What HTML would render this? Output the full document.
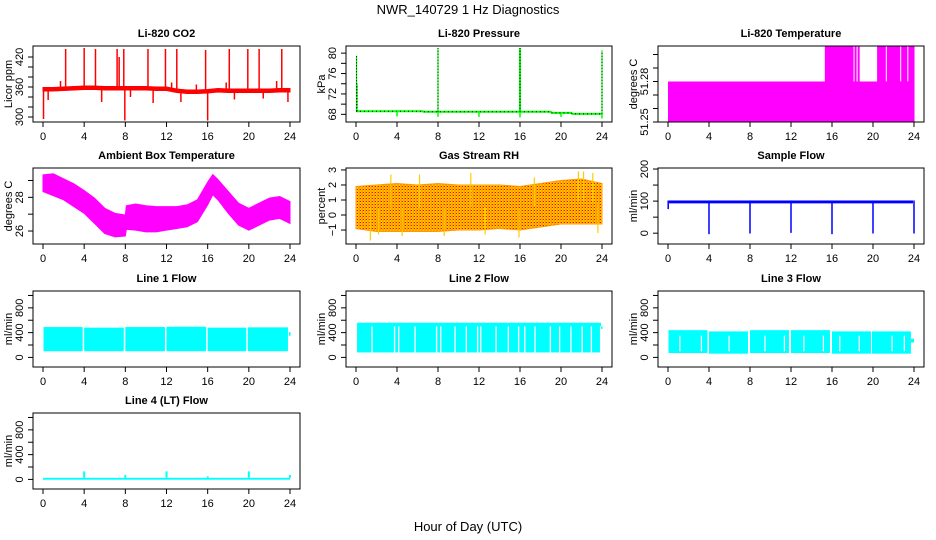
<!DOCTYPE html>
<html><head><meta charset="utf-8"><style>
html,body{margin:0;padding:0;background:#fff;}
svg{display:block;font-family:"Liberation Sans",sans-serif;}
</style></head><body>
<svg id="c" width="936" height="540" viewBox="0 0 936 540">
<defs>
<pattern id="rhpat" width="3" height="3" patternUnits="userSpaceOnUse">
<rect width="3" height="3" fill="#ffcc00"/><rect width="1" height="1" fill="#ff0000"/><rect x="1.5" y="1.5" width="1" height="1" fill="#ff2200"/><rect x="2" y="0" width="1" height="1" fill="#ff8800"/>
</pattern>
</defs>
<text x="468" y="14" text-anchor="middle" font-size="13">NWR_140729 1 Hz Diagnostics</text>
<text x="468" y="531" text-anchor="middle" font-size="13">Hour of Day (UTC)</text>
</svg>
<script>
// ---------- data ----------
const xTicks = [0,4,8,12,16,20,24];
const co2T = [0,1,2,3,4,5,6,7,8,9,10,11,12,13,14,15,16,17,18,19,20,21,22,23,24];
const co2Base = [355,355,356,357,358,358,357,357,357,357,357,356,356,352,350,350,351,353,352,352,352,352,352,353,353];
const co2SpikeT = [0.05,0.5,1.7,2.2,4.0,5.1,5.7,7.2,7.4,7.85,7.95,8.5,10.2,10.7,11.9,12.5,13.0,13.4,14.9,15.8,16.0,17.8,18.1,18.6,19.9,21.0,21.4,22.7,23.2,23.8];
const co2SpikeV = [296,334,372,436,438,436,330,436,420,436,293,340,436,328,436,369,436,330,365,434,293,369,436,335,436,436,337,372,436,330];
const presT = [0,6.5,6.6,16,19,19.1,21,21.1,24];
const presV = [68.6,68.6,68.5,68.5,68.5,68.3,68.3,68.1,68.1];
const presSpikeT = [0.05,0.1,8,16,24];
const presSpikeV = [79.5,74,81,81,80.5];
const presDipT = [4,8,12,16,20,24];
const presDipV = [67.6,67.5,67.5,67.4,67.5,67.2];
const tempBaseEnd = 24.05;
const tempLowV = 51.25;
const tempMidV = 51.28;
const tempStart = [15.3,18.2,18.5,20.4,21.35,22.75,23.45];
const tempEnd = [18.1,18.4,18.7,21.25,22.65,23.35,24.05];
const tempHi = [51.306,51.306,51.306,51.306,51.306,51.306,51.306];
const ambT = [0,1,2,3,4,5,6,7,8,8.1,9,10,11,12,13,14,15,16,16.5,17,18,19,20,21,22,23,24];
const ambHi = [29.33,29.4,29.1,28.8,28.4,27.95,27.35,27.05,26.95,27.5,27.6,27.5,27.45,27.45,27.45,27.55,27.85,28.9,29.35,29.05,28.35,27.65,27.35,27.65,27.95,28.05,27.75];
const ambLo = [28.34,28.1,27.85,27.45,27.05,26.45,25.85,25.65,25.7,26.1,26.05,25.95,25.95,26.05,26.15,26.25,26.55,27.55,28.15,27.85,27.05,26.35,26.05,26.35,26.65,26.75,26.45];
const rhT = [0,2,4,6,8,10,12,14,16,18,20,22,24];
const rhLo = [-0.9,-1.1,-1.1,-1.1,-1.1,-1.0,-1.0,-0.9,-1.0,-0.8,-0.6,-0.6,-0.6];
const rhHi = [1.9,2.0,2.1,2.0,2.1,2.0,2.0,2.0,1.9,2.1,2.3,2.4,2.1];
const rhSpikeT = [1.4,2.2,3.4,4.5,6.2,8.6,11.2,12.6,15.9,17.4,21.7,22.2,23.1,23.6];
const rhSpikeV = [-1.7,-1.3,2.7,-1.4,2.7,-1.4,2.8,-1.3,-1.5,2.5,2.9,2.9,2.8,-1.2];
const sfBaseLo = 93;
const sfBaseHi = 102;
const sfStartV = 75;
const sfDipT = [4,8,12,16,20,24];
const sfDipV = [-3,-1,1,-3,-1,-1];
const l1Start = [0.05,4.0,8.0,12.0,16.0,19.9];
const l1End = [3.85,7.85,11.85,15.85,19.75,23.8];
const l1Hi = [490,480,490,495,480,485];
const l1Lo = [100,100,100,100,100,100];
const l2Start = [0.1];
const l2End = [23.9];
const l2Hi = [560];
const l2Lo = [80];
const l2Gap = [1.5,3.7,4.1,5.7,7.8,8.2,9.6,10.7,11.8,12.1,13.6,14.8,15.8,16.4,17.4,18.9,19.8,20.9,22.0,22.9,23.8];
const l3Start = [0.05,4.0,8.0,12.0,16.0,19.9,23.7];
const l3End = [3.85,7.8,11.8,15.8,19.8,23.7,24.0];
const l3Hi = [440,420,440,440,420,420,300];
const l3Lo = [70,60,70,70,60,60,240];
const l3Gap = [1.1,3.2,5.9,9.4,11.3,13.2,15.1,16.7,18.6,21.8,23.0];
const l4BaseLo = -5;
const l4BaseHi = 25;
const l4SpikeT = [4,8,12,16,20,24];
const l4SpikeV = [130,70,130,50,130,70];

// ---------- layout ----------
const NS = 'http://www.w3.org/2000/svg';
const svg = document.getElementById('c');
const PL = [33,346,658], PR = [300,612,924], PT = [46,168,291,413], PH = 76;
function mk(tag, attrs, parent){
  const e = document.createElementNS(NS, tag);
  for (const k in attrs) e.setAttribute(k, attrs[k]);
  (parent||svg).appendChild(e);
  return e;
}
function panel(col,row,name,title,ylab,yBot,yTop,ticks,labels){
  const L=PL[col], R=PR[col], T=PT[row], B=T+PH;
  const g = mk('g',{});
  
  
  const x = t => L+10+(R-L-20)*t/24;
  const y = v => B-(v-yBot)/(yTop-yBot)*PH;
  const plot = mk('g',{},g);
  
  
  const box = mk('rect',{x:L,y:T,width:R-L,height:PH,fill:'none',stroke:'#000','stroke-width':1},g);
  
  
  const tt = mk('text',{x:(L+R)/2,y:T-9,'text-anchor':'middle','font-size':11,'font-weight':'bold'},g);
  tt.textContent = title;
  
  
  const xa = mk('g',{},g);
  
  
  xTicks.forEach(t=>{
    mk('line',{x1:x(t),x2:x(t),y1:B,y2:B+5,stroke:'#000'},xa);
    const tx = mk('text',{x:x(t),y:B+18,'text-anchor':'middle','font-size':11},xa);
    tx.textContent = t;
  });
  const ya = mk('g',{},g);
  
  
  ticks.forEach((v,i)=>{
    mk('line',{x1:L,x2:L-5,y1:y(v),y2:y(v),stroke:'#000'},ya);
    if (labels[i]!==''){
      const tx = mk('text',{x:0,y:0,'text-anchor':'middle','font-size':11,transform:`translate(${L-10},${y(v)}) rotate(-90)`},ya);
      tx.textContent = labels[i];
    }
  });
  const yl = mk('text',{x:0,y:0,'text-anchor':'middle','font-size':11,transform:`translate(${L-21},${(T+B)/2}) rotate(-90)`},g);
  yl.textContent = ylab;
  
  
  return {x,y,g:plot};
}
function band(p,ts,lo,hi,fill,name){
  let d='M'+ts.map((t,i)=>p.x(t)+','+p.y(hi[i])).join('L');
  for(let i=ts.length-1;i>=0;i--) d+='L'+p.x(ts[i])+','+p.y(lo[i]);
  const e = mk('path',{d:d+'Z',fill:fill,stroke:fill,'stroke-width':1},p.g);
  
  
  return e;
}
function vline(p,t,v1,v2,col,w,name){
  const e = mk('line',{x1:p.x(t),x2:p.x(t),y1:p.y(v1),y2:p.y(v2),stroke:col,'stroke-width':w||1.5},p.g);
  
  
  return e;
}
function rectv(p,t1,t2,lo,hi,col,name){
  const e = mk('rect',{x:p.x(t1),y:p.y(hi),width:Math.max(0.5,p.x(t2)-p.x(t1)),height:Math.max(0.5,p.y(lo)-p.y(hi)),fill:col},p.g);
  
  
  return e;
}
function interp(ts,vs,t){
  for(let i=0;i<ts.length-1;i++) if(t<=ts[i+1]) return vs[i]+(vs[i+1]-vs[i])*(t-ts[i])/(ts[i+1]-ts[i]||1);
  return vs[vs.length-1];
}

// CO2
{
  const p = panel(0,0,'co2','Li-820 CO2','Licor ppm',290,442,[300,320,340,360,380,400,420],['300','','','360','','','420']);
  band(p,co2T,co2Base.map(v=>v-3),co2Base.map(v=>v+4),'#ff0000','co2-band');
  co2SpikeT.forEach((t,i)=>vline(p,t,interp(co2T,co2Base,t),co2SpikeV[i],'#ff0000',1.5,'co2-spike'));
}
// Pressure
{
  const p = panel(1,0,'pressure','Li-820 Pressure','kPa',66.5,81.4,[68,70,72,74,76,78,80],['68','','72','','76','','80']);
  const d='M'+presT.map((t,i)=>p.x(t)+','+p.y(presV[i])).join('L');
  const l = mk('path',{d:d,fill:'none',stroke:'#00ff00','stroke-width':2},p.g);
  
  
  const l2 = mk('path',{d:d,fill:'none',stroke:'#000','stroke-width':1,'stroke-dasharray':'1,3'},p.g);
  
  
  presSpikeT.forEach((t,i)=>{vline(p,t,interp(presT,presV,t),presSpikeV[i],'#00ff00',t===16?2:1.2,'pressure-spike');});
  presSpikeT.forEach((t,i)=>{const e=vline(p,t,interp(presT,presV,t),presSpikeV[i],'#000',1,'pressure-spike-dots');e.setAttribute('stroke-dasharray','1,2');});
  presDipT.forEach((t,i)=>vline(p,t,interp(presT,presV,t),presDipV[i],'#00ff00',1.5,'pressure-dip'));
}
// Temperature
{
  const p = panel(2,0,'temperature','Li-820 Temperature','degrees C',51.25,51.3063,[51.25,51.26,51.27,51.28,51.29,51.30],['51.25','','','51.28','','']);
  rectv(p,0,tempBaseEnd,tempLowV,tempMidV,'#ff00ff','temperature-base-fill');
  tempStart.forEach((t,i)=>rectv(p,t,tempEnd[i],tempMidV,tempHi[i],'#ff00ff','temperature-high-fill'));
}
// Ambient
{
  const p = panel(0,1,'ambient','Ambient Box Temperature','degrees C',25.23,29.74,[26,27,28,29],['26','','28','']);
  band(p,ambT,ambLo,ambHi,'#ff00ff','ambient-band');
}
// RH
{
  const p = panel(1,1,'rh','Gas Stream RH','percent',-1.93,3.13,[-1,0,1,2,3],['\u22121','0','1','2','3']);
  band(p,rhT,rhLo,rhHi,'url(#rhpat)','rh-band').setAttribute('stroke','#ff9900');
  rhSpikeT.forEach((t,i)=>vline(p,t,interp(rhT,rhLo,t)/2+interp(rhT,rhHi,t)/2,rhSpikeV[i],'#ffcc00',1.2,'rh-spike'));
}
// Sample flow
{
  const p = panel(2,1,'sample-flow','Sample Flow','ml/min',-33.7,203.2,[0,50,100,150,200],['0','','100','','200']);
  rectv(p,0.1,23.9,sfBaseLo,sfBaseHi,'#0000ff','sample-flow-band');
  vline(p,0.02,sfStartV,sfBaseHi,'#0000ff',1.5,'sample-flow-start');
  sfDipT.forEach((t,i)=>vline(p,t,sfBaseHi,sfDipV[i],'#0000ff',1.5,'sample-flow-dip'));
}
const flowTicks=[0,200,400,600,800,1000], flowLabels=['0','','400','','800',''];
// Line 1
{
  const p = panel(0,2,'line1-flow','Line 1 Flow','ml/min',-155,1072,flowTicks,flowLabels);
  l1Start.forEach((t,i)=>rectv(p,t,l1End[i],l1Lo[i],l1Hi[i],'#00ffff','line1-flow-block'));
  rectv(p,23.9,24.05,350,410,'#00ffff','line1-flow-tail');
}
// Line 2
{
  const p = panel(1,2,'line2-flow','Line 2 Flow','ml/min',-155,1072,flowTicks,flowLabels);
  l2Start.forEach((t,i)=>rectv(p,t,l2End[i],l2Lo[i],l2Hi[i],'#00ffff','line2-flow-block'));
  l2Gap.forEach(t=>rectv(p,t,t+0.13,l2Lo[0],l2Hi[0]-60,'#ffffff','line2-flow-gap'));
  rectv(p,23.9,24.05,460,500,'#00ffff','line2-flow-tail');
}
// Line 3
{
  const p = panel(2,2,'line3-flow','Line 3 Flow','ml/min',-155,1072,flowTicks,flowLabels);
  l3Start.forEach((t,i)=>rectv(p,t,l3End[i],l3Lo[i],l3Hi[i],'#00ffff','line3-flow-block'));
  l3Gap.forEach(t=>rectv(p,t,t+0.12,100,350,'#ffffff','line3-flow-gap'));
}
// Line 4
{
  const p = panel(0,3,'line4-flow','Line 4 (LT) Flow','ml/min',-155,1072,flowTicks,flowLabels);
  rectv(p,0,24,l4BaseLo,l4BaseHi,'#00ffff','line4-flow-base');
  l4SpikeT.forEach((t,i)=>vline(p,t,l4BaseHi,l4SpikeV[i],'#00ffff',2,'line4-flow-spike'));
}
</script>
</body></html>
